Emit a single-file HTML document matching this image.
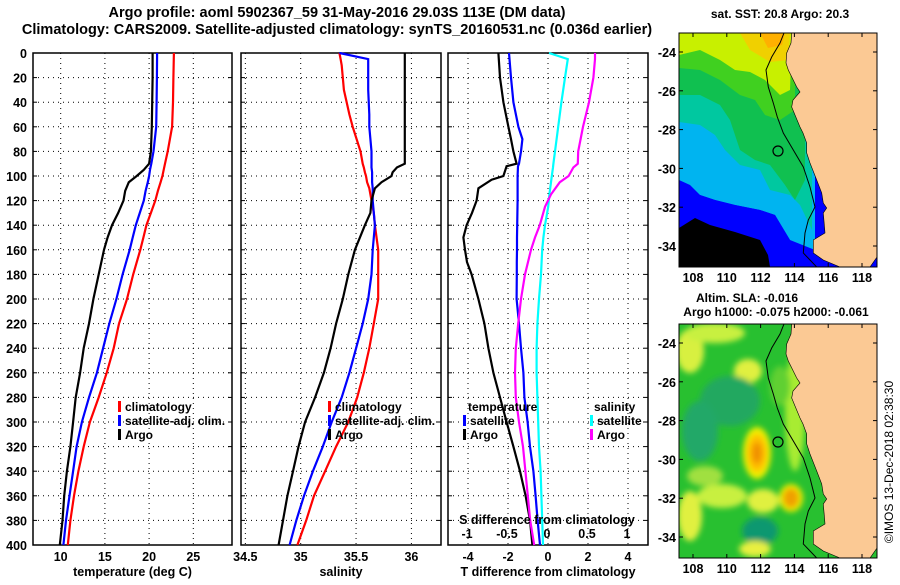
<!DOCTYPE html>
<html><head><meta charset="utf-8"><style>
body{margin:0;background:#fff;width:900px;height:580px;overflow:hidden}
text{font-family:"Liberation Sans",sans-serif;font-weight:bold;fill:#000}
</style></head><body>
<svg id="s" width="900" height="580" xmlns="http://www.w3.org/2000/svg">
<defs><filter id="blur" x="-20%" y="-20%" width="140%" height="140%"><feGaussianBlur stdDeviation="3"/></filter></defs>
<text x="337" y="17" font-size="14.5" text-anchor="middle">Argo profile: aoml 5902367_59 31-May-2016 29.03S 113E (DM data)</text>
<text x="337" y="34" font-size="14.5" text-anchor="middle">Climatology: CARS2009. Satellite-adjusted climatology: synTS_20160531.nc (0.036d earlier)</text>
<g id="maps"></g>
<g id="plots"></g>
</svg>
<script>
// ===== profile data (depth in m) =====
const depthsT = [0,20,40,60,80,90,95,100,105,112,120,130,140,150,160,180,200,220,240,260,280,300,320,340,360,380,400];
const tempClim = [22.8,22.75,22.7,22.6,22.1,21.8,21.65,21.5,21.3,21.0,20.7,20.2,19.7,19.35,19.0,18.2,17.5,16.6,16.0,15.2,14.3,13.3,12.6,12.0,11.5,11.1,10.8];
const tempSat = [20.9,20.88,20.85,20.8,20.5,20.25,20.1,20.0,19.85,19.6,19.4,18.95,18.5,18.15,17.8,17.0,16.3,15.5,14.8,14.1,13.2,12.4,11.8,11.4,11.0,10.6,10.3];
const tempArgo = [20.4,20.4,20.35,20.3,20.2,20.0,19.4,18.6,17.7,17.3,17.1,16.5,15.8,15.3,14.9,14.3,13.7,13.2,12.6,12.2,11.7,11.4,11.1,10.7,10.4,10.2,9.9];
const depthsS = [0,5,10,30,50,60,80,90,93,97,100,105,110,120,130,140,160,180,200,220,240,260,280,300,320,340,360,380,400];
const salClim = [35.35,35.36,35.37,35.39,35.44,35.47,35.54,35.56,35.57,35.58,35.59,35.6,35.62,35.64,35.66,35.67,35.70,35.70,35.70,35.66,35.62,35.57,35.51,35.43,35.32,35.22,35.12,35.05,34.97];
const salSat = [35.35,35.61,35.61,35.61,35.62,35.62,35.64,35.64,35.64,35.645,35.645,35.645,35.65,35.65,35.66,35.67,35.65,35.64,35.61,35.56,35.5,35.44,35.37,35.28,35.2,35.11,35.03,34.96,34.9];
const salArgo = [35.94,35.94,35.94,35.94,35.94,35.94,35.94,35.94,35.87,35.83,35.82,35.73,35.67,35.64,35.63,35.58,35.49,35.43,35.38,35.32,35.27,35.21,35.13,35.04,34.98,34.93,34.88,34.84,34.8];
const depthsD = [0,20,40,60,70,80,90,92,100,103,110,120,130,140,150,160,170,180,200,220,240,260,280,300,320,340,360,380,400];
const tDiffSat = [-1.95,-1.85,-1.73,-1.48,-1.28,-1.35,-1.45,-1.5,-1.52,-1.52,-1.52,-1.52,-1.53,-1.54,-1.55,-1.55,-1.56,-1.56,-1.57,-1.45,-1.35,-1.23,-1.18,-1.02,-0.9,-0.73,-0.62,-0.52,-0.4];
const tDiffArgo = [-2.48,-2.4,-2.23,-1.98,-1.85,-1.73,-1.57,-2.07,-2.23,-2.82,-3.48,-3.57,-3.8,-4.07,-4.23,-4.15,-4.05,-3.82,-3.48,-3.18,-2.98,-2.73,-2.4,-2.07,-1.73,-1.4,-1.12,-0.9,-0.78];
const depthsSD = [0,5,20,40,60,80,90,93,100,105,115,125,140,150,160,180,200,220,240,260,280,300,320,340,360,380,400];
const sDiffSat = [0.025,0.26,0.225,0.18,0.14,0.1,0.08,0.075,0.06,0.05,0.03,0.015,-0.025,-0.045,-0.06,-0.075,-0.1,-0.12,-0.13,-0.13,-0.12,-0.11,-0.1,-0.08,-0.07,-0.06,-0.05];
const sDiffArgo = [0.6,0.6,0.58,0.525,0.45,0.39,0.385,0.33,0.27,0.16,0.05,-0.025,-0.09,-0.15,-0.2,-0.275,-0.325,-0.36,-0.39,-0.4,-0.39,-0.35,-0.3,-0.27,-0.24,-0.21,-0.16];
const depthTicks = [0,20,40,60,80,100,120,140,160,180,200,220,240,260,280,300,320,340,360,380,400];
const tempTicks = [10,15,20,25];
const salTicks = [34.5,35,35.5,36];
const tdTicks = [-4,-2,0,2,4];
const sdTicks = [-1,-0.5,0,0.5,1];
const sdTickLabels = ["-1","-0.5","0","0.5","1"];
const lonTicks = [108,110,112,114,116,118];
const latTicks = [-24,-26,-28,-30,-32,-34];

const NS="http://www.w3.org/2000/svg";
function mk(tag,attrs,parent,txt){const e=document.createElementNS(NS,tag);for(const k in attrs)e.setAttribute(k,attrs[k]);if(txt!==undefined)e.textContent=txt;parent.appendChild(e);return e;}
const plots=document.getElementById('plots');
const TOP=53,BOT=545;
const yD=d=>TOP+(BOT-TOP)*d/400;

function panel(name,x0,x1,sx,ticks,labels,xlabel){
  const g=mk('g',{},plots);
  
  
  depthTicks.forEach(d=>{ if(d>0&&d<400){
    const l=mk('line',{x1:x0,x2:x1,y1:yD(d),y2:yD(d),stroke:'#000','stroke-width':1,'stroke-dasharray':'1,4'},g);
    
    
    mk('line',{x1:x0,x2:x0+4,y1:yD(d),y2:yD(d),stroke:'#000'},g);
    mk('line',{x1:x1-4,x2:x1,y1:yD(d),y2:yD(d),stroke:'#000'},g);
  }});
  ticks.forEach((t,i)=>{const x=sx(t);
    if(x>x0+2&&x<x1-2){
      const l=mk('line',{x1:x,x2:x,y1:TOP,y2:BOT,stroke:'#000','stroke-dasharray':'1,4'},g);
      
      
    }
    if(labels){const tx=mk('text',{x:x,y:561,'font-size':12.5,'text-anchor':'middle'},g,labels[i]);
      
      }
  });
  const r=mk('rect',{x:x0,y:TOP,width:x1-x0,height:BOT-TOP,fill:'none',stroke:'#000','stroke-width':1.5},g);
  
  
  const xl=mk('text',{x:(x0+x1)/2,y:576,'font-size':12.5,'text-anchor':'middle'},g,xlabel);
  
  
  return g;
}
function line(g,xs,ds,sx,color,name){
  const pts=xs.map((v,i)=>sx(v).toFixed(1)+','+yD(ds[i]).toFixed(1)).join(' ');
  const p=mk('polyline',{points:pts,fill:'none',stroke:color,'stroke-width':2.2},g);
  
  
}
function legend(g,x,y,color,label){
  mk('rect',{x:x,y:y-10,width:3,height:11,fill:color},g);
  const t=mk('text',{x:x+7,y:y,'font-size':12},g,label);
  
  
}
depthTicks.forEach(d=>{const t=mk('text',{x:27,y:yD(d)+5,'font-size':12.5,'text-anchor':'end'},plots,String(d));
  
  });

const sT=v=>60.7+(v-10)*8.84;
const g1=panel('temperature-panel',33,232,sT,tempTicks,tempTicks.map(String),'temperature (deg C)');
line(g1,tempClim,depthsT,sT,'#ff0000','temp-climatology-line');
line(g1,tempSat,depthsT,sT,'#0000ff','temp-satellite-line');
line(g1,tempArgo,depthsT,sT,'#000000','temp-argo-line');
legend(g1,118,411,'#ff0000','climatology');legend(g1,118,425,'#0000ff','satellite-adj. clim.');legend(g1,118,439,'#000','Argo');

const sS=v=>300.7+(v-35)*110.7;
const g2=panel('salinity-panel',241,441,sS,salTicks,salTicks.map(String),'salinity');
line(g2,salClim,depthsS,sS,'#ff0000','sal-climatology-line');
line(g2,salSat,depthsS,sS,'#0000ff','sal-satellite-line');
line(g2,salArgo,depthsS,sS,'#000000','sal-argo-line');
legend(g2,328,411,'#ff0000','climatology');legend(g2,328,425,'#0000ff','satellite-adj. clim.');legend(g2,328,439,'#000','Argo');

const sTD=v=>548+v*20;
const sSD=v=>547+v*80;
const g3=panel('difference-panel',448,648,sTD,tdTicks,tdTicks.map(String),'T difference from climatology');
line(g3,tDiffArgo,depthsD,sTD,'#000000','tdiff-argo-line');
line(g3,tDiffSat,depthsD,sTD,'#0000ff','tdiff-satellite-line');
line(g3,sDiffSat,depthsSD,sSD,'#00ffff','sdiff-satellite-line');
line(g3,sDiffArgo,depthsSD,sSD,'#ff00ff','sdiff-argo-line');
sdTicks.forEach((t,i)=>{const tx=mk('text',{x:sSD(t),y:538,'font-size':12.5,'text-anchor':'middle'},g3,sdTickLabels[i]);
  
  });
{const tx=mk('text',{x:547,y:524,'font-size':12.5,'text-anchor':'middle'},g3,'S difference from climatology');
 
 }
{const tx=mk('text',{x:468,y:411,'font-size':12},g3,'temperature');}
{const tx=mk('text',{x:594,y:411,'font-size':12},g3,'salinity');}
legend(g3,463,425,'#0000ff','satellite');legend(g3,463,439,'#000','Argo');
legend(g3,590,425,'#00ffff','satellite');legend(g3,590,439,'#ff00ff','Argo');

// ===== maps =====
const maps=document.getElementById('maps');
const MX0=679,MX1=877;
const lonX=l=>693+(l-108)*16.9;
const coast=[[791.7,33],[791,43],[786.7,53],[786,63],[788.3,70],[796.7,87],[800,92],[793,100],[791.7,107],[795,115],[800,127],[803,133],[806.7,143],[806.7,153],[810,163],[816.7,180],[821.7,193],[823.3,203],[826.7,208],[823.3,213],[825,233],[813.3,240],[813.3,253],[823.3,260],[840,267],[870,267],[877,257],[877,33]];
const iso=[[784,33],[780,43],[771.7,57],[766,70],[768.3,87],[773.3,103],[777.3,117],[783.3,133],[793.3,150],[803.3,167],[810,187],[815,207],[808.3,220],[805,233],[803.3,253],[816.7,267]];
function map(name,top,kind){
  const g=mk('g',{},maps);
  
  
  const dy=top-33, H=234;
  const latY=l=>top+(-24-l)*19.4+19;
  const cid='clip'+top;
  const cp=mk('clipPath',{id:cid},g);mk('rect',{x:MX0,y:top,width:MX1-MX0,height:H},cp);
  const f=mk('g',{'clip-path':'url(#'+cid+')'},g);
  const P=(pts,c)=>mk('polygon',{points:pts.map(p=>p[0]+','+(p[1]+dy)).join(' '),fill:c},f);
  if(kind==='sst'){
    mk('rect',{x:MX0,y:top,width:198,height:H,fill:'#0000ff'},f);
    P([[679,33],[815,33],[815,250],[790,240],[775,215],[760,210],[735,205],[715,200],[700,195],[690,185],[679,180]],'#00b4f0');
    P([[679,33],[812,33],[812,230],[800,205],[790,195],[770,190],[760,170],[740,165],[725,150],[715,135],[700,125],[679,122]],'#00c8a0');
    P([[679,33],[805,33],[805,180],[795,200],[785,185],[770,165],[755,160],[740,150],[730,120],[720,105],[700,95],[679,95]],'#10c050');
    P([[679,33],[795,33],[795,110],[780,120],[765,115],[755,100],[740,95],[720,80],[700,70],[679,68]],'#40d020');
    P([[679,33],[792,33],[790,90],[780,95],[765,80],[750,72],[735,70],[720,60],[700,50],[679,55]],'#c8f000');
    P([[740,33],[790,33],[788,60],[770,62],[750,50]],'#f0d000');
    P([[760,33],[785,33],[782,45],[768,48]],'#ffb000');
    P([[679,185],[700,195],[715,200],[735,205],[760,210],[775,215],[790,240],[800,267],[679,267]],'#0000ff');
    P([[679,228],[695,218],[710,225],[735,232],[760,240],[768,255],[770,267],[679,267]],'#000');
  } else {
    mk('rect',{x:MX0,y:top,width:198,height:H,fill:'#28c030'},f);
    const bg=mk('g',{filter:'url(#blur)'},f);
    const B=(cx,cy,rx,ry,c)=>mk('ellipse',{cx:cx,cy:cy+dy,rx:rx,ry:ry,fill:c},bg);
    B(690,60,14,22,'#d8f040');B(748,80,14,12,'#e0f040');B(715,42,30,10,'#c8f040');
    B(730,110,30,25,'#20a860');B(700,140,18,30,'#20a868');B(722,205,25,12,'#c8f040');
    B(690,225,12,25,'#e0f040');B(763,210,16,12,'#e0f040');B(705,185,18,10,'#a0e040');
    B(760,240,18,14,'#109870');B(755,258,16,8,'#e8f040');B(795,120,10,60,'#a8ec30');
    B(780,95,10,20,'#60d030');
    B(757,162,14,26,'#f0f000');B(757,162,10,19,'#ffc000');B(757,162,5,11,'#f09000');
    B(791,207,12,14,'#f0f000');B(791,207,8,10,'#f0a000');
  }
  const L=mk('polygon',{points:coast.map(p=>p[0]+','+(p[1]+dy)).join(' '),fill:'#fbc994',stroke:'#000','stroke-width':0.6},f);
  
  
  mk('polyline',{points:iso.map(p=>p[0]+','+(p[1]+dy)).join(' '),fill:'none',stroke:'#000','stroke-width':1},f);
  const c=mk('circle',{cx:778,cy:151+dy,r:5,fill:'none',stroke:'#000','stroke-width':1.2},g);
  
  
  mk('rect',{x:MX0,y:top,width:198,height:H,fill:'none',stroke:'#000','stroke-width':1},g);
  lonTicks.forEach(l=>{const x=lonX(l);
    mk('line',{x1:x,x2:x,y1:top,y2:top+4,stroke:'#000'},g);mk('line',{x1:x,x2:x,y1:top+H-4,y2:top+H,stroke:'#000'},g);
    const t=mk('text',{x:x,y:top+H+15,'font-size':12.5,'text-anchor':'middle'},g,String(l));
    
    });
  latTicks.forEach(l=>{const y=latY(l);
    mk('line',{x1:MX0,x2:MX0+4,y1:y,y2:y,stroke:'#000'},g);mk('line',{x1:MX1-4,x2:MX1,y1:y,y2:y,stroke:'#000'},g);
    const t=mk('text',{x:676,y:y+5,'font-size':12.5,'text-anchor':'end'},g,String(l));
    
    });
  return g;
}
map('sst-map',33,'sst');
map('sla-map',324,'sla');
const tt=[[780,18,'sat. SST: 20.8 Argo: 20.3','sst-map-title'],[747,302,'Altim. SLA: -0.016','sla-map-title'],[776,316,'Argo h1000: -0.075 h2000: -0.061','argo-height-title']];
tt.forEach(a=>{const t=mk('text',{x:a[0],y:a[1],'font-size':12,'text-anchor':'middle'},maps,a[2]);
  
  });
{const t=mk('text',{x:0,y:0,'font-size':12,'text-anchor':'middle',transform:'translate(893,462) rotate(-90)'},maps,'©IMOS 13-Dec-2018 02:38:30');
 
 
 t.style.fontWeight='normal';}
</script>
</body></html>
